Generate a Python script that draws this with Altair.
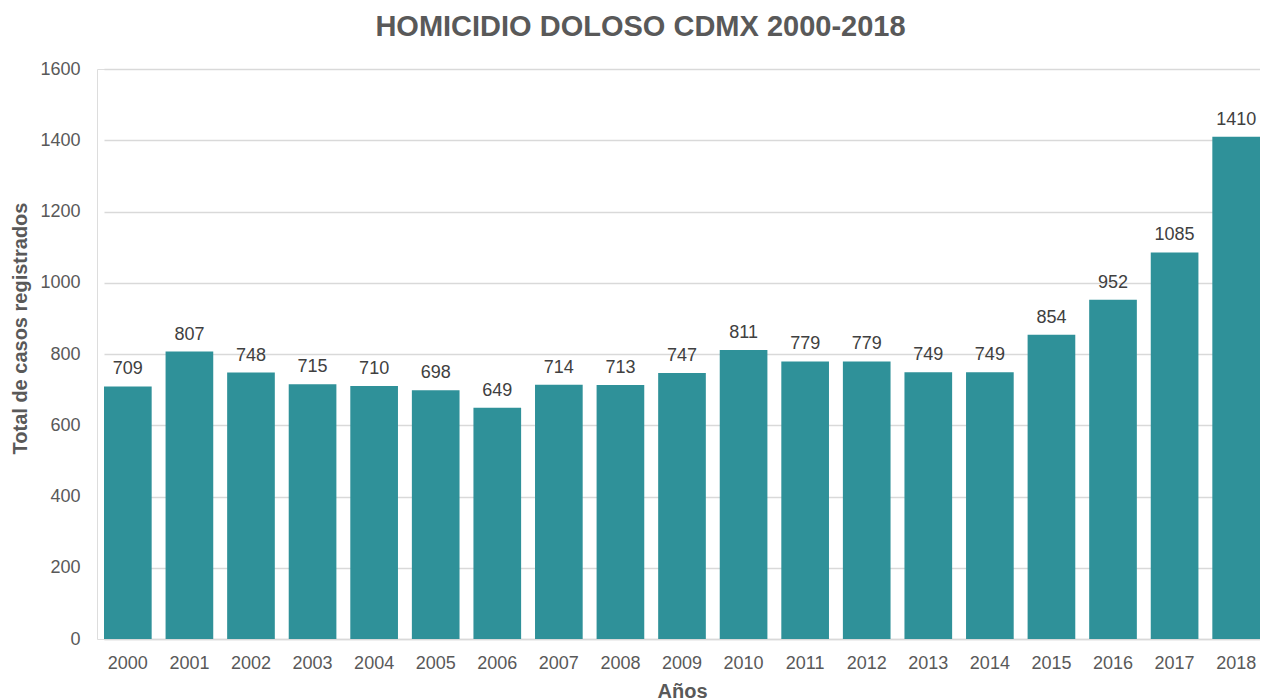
import altair as alt
import pandas as pd

years = [str(y) for y in range(2000, 2019)]
casos = [709, 807, 748, 715, 710, 698, 649, 714, 713, 747, 811, 779, 779, 749, 749, 854, 952, 1085, 1410]

df = pd.DataFrame({"Año": years, "Casos": casos})

FONT = "Liberation Sans"
BAR = "#2F9199"
GRID = "#D9D9D9"
TXT = "#595959"

x = alt.X(
    "Año:N",
    sort=years,
    title="Años",
    scale=alt.Scale(range=[7, 1163], paddingInner=14 / 62, paddingOuter=0),
    axis=alt.Axis(
        labelAngle=0,
        labelFont=FONT,
        labelFontSize=18,
        labelColor=TXT,
        labelBaseline="alphabetic",
        labelPadding=29,
        ticks=False,
        tickSize=0,
        domainColor=GRID,
        domainWidth=1.5,
        titleFont=FONT,
        titleFontSize=20,
        titleFontWeight="bold",
        titleColor=TXT,
        titlePadding=9,
    ),
)

y = alt.Y(
    "Casos:Q",
    title="Total de casos registrados",
    scale=alt.Scale(domain=[0, 1600], nice=False),
    axis=alt.Axis(
        values=[0, 200, 400, 600, 800, 1000, 1200, 1400, 1600],
        format="d",
        labelFont=FONT,
        labelFontSize=18,
        labelColor=TXT,
        labelPadding=17,
        ticks=False,
        tickSize=0,
        domain=False,
        gridColor=GRID,
        gridWidth=1.5,
        titleFont=FONT,
        titleFontSize=20,
        titleFontWeight="bold",
        titleColor=TXT,
        titlePadding=9,
        titleY=259,
    ),
)

bars = alt.Chart(df).mark_bar(color=BAR).encode(x=x, y=y)

labels = alt.Chart(df).mark_text(
    font=FONT,
    fontSize=18,
    color="#404040",
    baseline="alphabetic",
    dy=-12,
).encode(x=alt.X("Año:N", sort=years), y=alt.Y("Casos:Q"), text=alt.Text("Casos:Q"))

chart = (
    alt.layer(bars, labels)
    .properties(
        width=1163,
        height=570,
        autosize=alt.AutoSizeParams(type="none"),
        padding={"left": 89, "top": 61, "right": 0, "bottom": 61},
        title=alt.TitleParams(
            "HOMICIDIO DOLOSO CDMX 2000-2018",
            font=FONT,
            fontSize=29,
            fontWeight="bold",
            color=TXT,
            anchor="middle",
            baseline="bottom",
            offset=15,
            dy=26,
            dx=-38,
        ),
    )
    .configure_view(stroke=None)
    .configure(background="white")
)

chart.save("out.html", embed_options={"renderer": "svg", "actions": False})
